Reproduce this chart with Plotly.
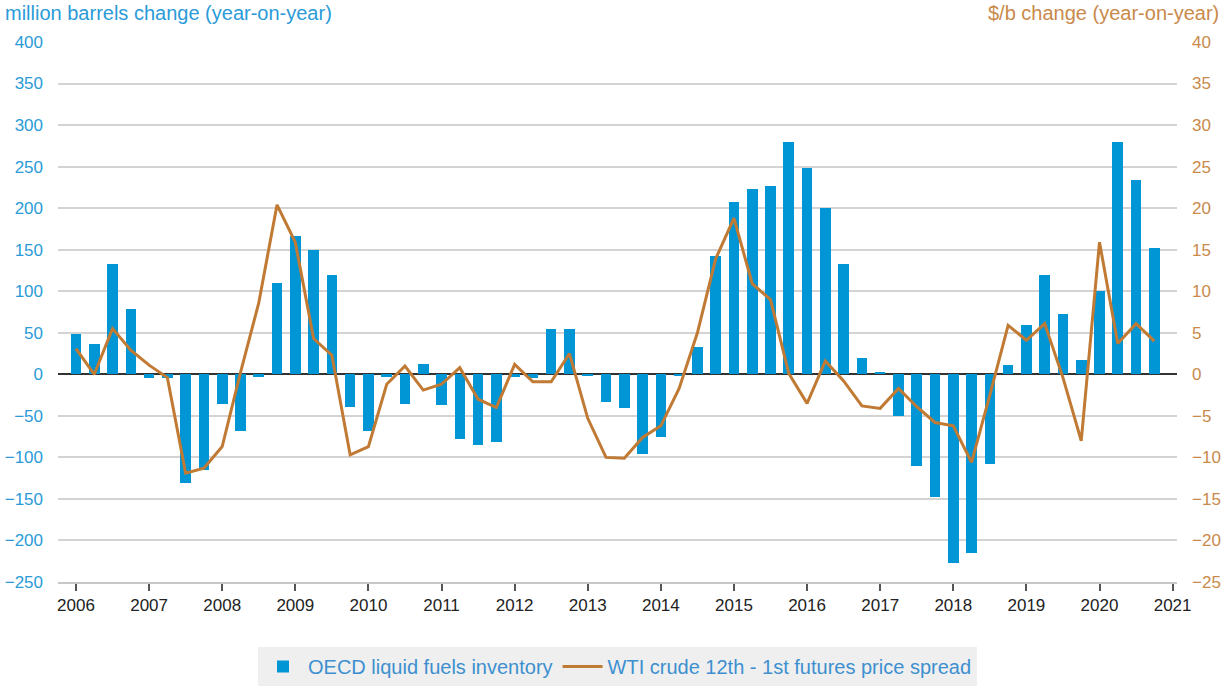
import plotly.graph_objects as go

years = list(range(2006, 2021))
quarters = [f"{y}Q{q}" for y in years for q in range(1, 5)]

inventory = [
    48, 37, 133, 79,
    -4, -5, -131, -115,
    -36, -68, -3, 110,
    167, 150, 119, -39,
    -68, -3, -36, 12,
    -37, -78, -85, -81,
    -3, -5, 54, 54,
    -2, -33, -41, -96,
    -75, -2, 33, 142,
    207, 223, 227, 280,
    248, 200, 133, 20,
    3, -50, -110, -148,
    -227, -215, -108, 11,
    59, 119, 73, 17,
    100, 280, 234, 152,
]

spread = [
    3.1, 0.0, 5.5, 2.9,
    1.1, -0.4, -11.9, -11.3,
    -8.7, 0.2, 8.6, 20.4,
    15.9, 4.3, 2.3, -9.7,
    -8.7, -1.2, 1.0, -1.9,
    -1.2, 0.8, -3.0, -4.0,
    1.2, -0.9, -0.9, 2.5,
    -5.3, -10.0, -10.1, -7.6,
    -6.2, -1.7, 5.0, 13.9,
    18.8, 10.9, 9.0, 0.1,
    -3.5, 1.6, -0.8, -3.8,
    -4.1, -1.7, -3.9, -5.8,
    -6.2, -10.6, -2.5, 5.9,
    4.1, 6.1, -0.4, -8.0,
    15.9, 3.7, 6.1, 4.0,
]

tick_years = list(range(2006, 2022))

x = [int(q[:4]) + (int(q[-1]) - 1) / 4 for q in quarters]

BLUE = "#0096d6"
BROWN = "#c07a34"
LEFT_TXT = "#2b9bd8"
RIGHT_TXT = "#c98a4b"

W, H = 1223, 690
L, R, T, B = 58, 46, 42, 108
PW = W - L - R
PH = H - T - B

fig = go.Figure()
fig.add_trace(go.Bar(
    x=x, y=inventory, width=0.145, marker_color=BLUE, marker_line_width=0,
    name="OECD liquid fuels inventory", yaxis="y",
))
fig.add_trace(go.Scatter(
    x=x, y=spread, mode="lines", line=dict(color=BROWN, width=3),
    name="WTI crude 12th - 1st futures price spread", yaxis="y2",
))

fig.update_layout(
    width=W, height=H,
    margin=dict(l=L, r=R, t=T, b=B, autoexpand=False),
    paper_bgcolor="white", plot_bgcolor="white",
    font=dict(family="Liberation Sans, Arial, sans-serif", size=16),
    showlegend=True,
    legend=dict(
        orientation="h", x=0.5, xanchor="center",
        yref="container", y=(H - 647) / H, yanchor="top",
        bgcolor="#efefef", font=dict(size=20, color="#3d8fd0"),
        borderwidth=0, itemwidth=40,
    ),
    bargap=0,
    xaxis=dict(
        range=[2005.754, 2021.06], tickmode="array", tickvals=tick_years,
        ticktext=[str(t) for t in tick_years], showgrid=False,
        ticks="outside", ticklen=7, tickwidth=2, tickcolor="#555555",
        showline=True, linecolor="#c8c8c8", linewidth=2,
        tickfont=dict(size=17, color="#222222"), zeroline=False,
        automargin=False,
    ),
    yaxis=dict(
        range=[-250, 400], dtick=50, tick0=0, showgrid=True,
        gridcolor="#d3d3d3", gridwidth=2, zeroline=True,
        zerolinecolor="#333333", zerolinewidth=2,
        tickfont=dict(size=17, color=LEFT_TXT), ticks="", ticklabelstandoff=14,
        automargin=False,
    ),
    yaxis2=dict(
        range=[-25, 40], dtick=5, tick0=0, overlaying="y", side="right",
        showgrid=False, zeroline=False,
        tickfont=dict(size=17, color=RIGHT_TXT), ticklabelstandoff=14,
        automargin=False,
    ),
    annotations=[
        dict(text="million barrels change (year-on-year)", xref="paper", yref="paper",
             x=-(L - 3) / PW, y=1 + 29 / PH, xanchor="left", yanchor="middle", showarrow=False,
             font=dict(size=20, color=LEFT_TXT)),
        dict(text="$/b change (year-on-year)", xref="paper", yref="paper",
             x=1 + (R - 2) / PW, y=1 + 29 / PH, xanchor="right", yanchor="middle", showarrow=False,
             font=dict(size=20, color=RIGHT_TXT)),
    ],
)

fig.write_html(
    "out.html",
    config={"displayModeBar": False},
    post_script="document.body.style.margin='0px';document.body.style.padding='0px';",
)
